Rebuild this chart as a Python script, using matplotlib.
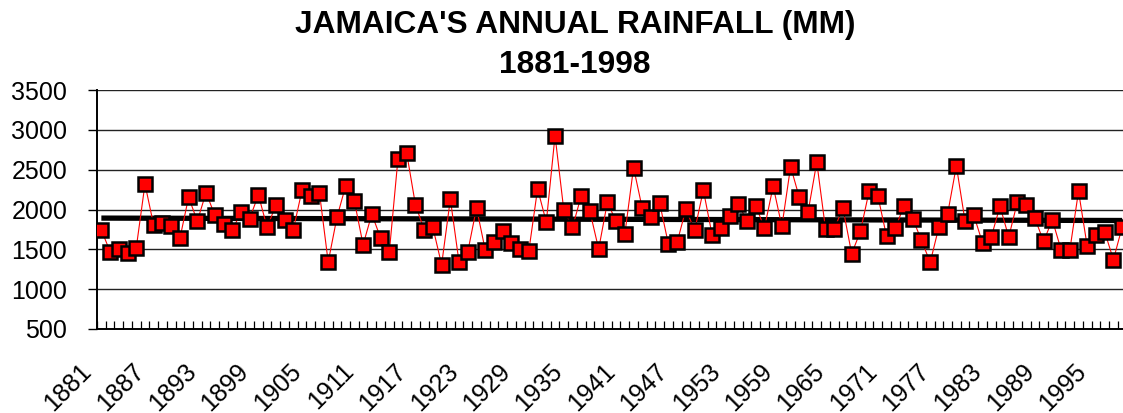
import matplotlib
matplotlib.use("Agg")
import matplotlib.pyplot as plt
from matplotlib.transforms import ScaledTranslation
import numpy as np

plt.rcParams['font.family'] = ['Liberation Sans', 'DejaVu Sans']

years = list(range(1881, 1999))
rainfall = [
    1745, 1470, 1500, 1450, 1520, 2320, 1800, 1830, 1787, 1637,
    2155, 1854, 2213, 1929, 1821, 1741, 1963, 1886, 2184, 1775,
    2055, 1871, 1746, 2243, 2172, 2209, 1340, 1900, 2297, 2105,
    1558, 1942, 1645, 1462, 2640, 2706, 2059, 1746, 1775, 1307,
    2130, 1336, 1470, 2021, 1491, 1591, 1733, 1574, 1499, 1483,
    2259, 1842, 2928, 1996, 1775, 2172, 1975, 1503, 2092, 1850,
    1691, 2527, 2013, 1904, 2076, 1562, 1591, 2005, 1737, 2243,
    1683, 1767, 1913, 2067, 1858, 2050, 1767, 2293, 1788, 2539,
    2151, 1967, 2594, 1758, 1758, 2017, 1445, 1725, 2230, 2172,
    1662, 1762, 2050, 1882, 1614, 1336, 1783, 1946, 2548, 1850,
    1929, 1579, 1654, 2042, 1654, 2096, 2059, 1888, 1600, 1871,
    1495, 1487, 2230, 1537, 1679, 1721, 1370, 1779,
]
trend_values = [1892, 1862]  # linear trend at first and last year
label_years = years[::6]
y_ticks = [500, 1000, 1500, 2000, 2500, 3000, 3500]

W, H, DPI = 1123, 413, 100
fig = plt.figure(figsize=(W / DPI, H / DPI), dpi=DPI)
left, right, top, bottom = 97, 1126.5, 90, 329
ax = fig.add_axes([left / W, (H - bottom) / H, (right - left) / W, (bottom - top) / H])

x = np.arange(len(years))
ax.plot([x[0], x[-1]], trend_values, color='black', lw=3.8, zorder=3, solid_capstyle='butt')
ax.plot(x, rainfall, color='#ff0000', lw=0.8, zorder=4)
ax.plot(x, rainfall, linestyle='none', marker='s', markersize=9.5,
        markerfacecolor='#ff0000', markeredgecolor='black', markeredgewidth=1.8, zorder=5)

ax.set_xlim(-0.5, len(years) - 0.5)
ax.set_ylim(500, 3500)
ax.set_yticks(y_ticks)
ax.yaxis.grid(True, color='#222222', lw=1.0)
ax.set_axisbelow(True)

ax.set_xticks([years.index(yv) for yv in label_years])
ax.set_xticklabels([str(yv) for yv in label_years], rotation=45, ha='right',
                   va='center', rotation_mode='anchor')
ax.set_xticks(np.arange(-0.5, len(years), 1.0), minor=True)
ax.tick_params(axis='x', which='major', length=0, pad=27.7, labelsize=18)
ax.tick_params(axis='x', which='minor', direction='in', length=6, width=0.9, color='black')
ax.tick_params(axis='y', direction='out', length=6.5, width=1.0, pad=15, labelsize=18)

for lbl in ax.get_xticklabels():
    lbl.set_transform(lbl.get_transform() + ScaledTranslation(-13.5 / DPI, 0, fig.dpi_scale_trans))

for s in ['top', 'right']:
    ax.spines[s].set_visible(False)
ax.spines['left'].set_linewidth(1.4)
ax.spines['bottom'].set_linewidth(1.4)

fig.text(575 / W, 1 - 25 / H, "JAMAICA'S ANNUAL RAINFALL (MM)", ha='center', va='center',
         fontsize=22.8, fontweight='bold')
fig.text(575 / W, 1 - 65 / H, "1881-1998", ha='center', va='center',
         fontsize=22.8, fontweight='bold')

fig.savefig('out.png', dpi=DPI)
